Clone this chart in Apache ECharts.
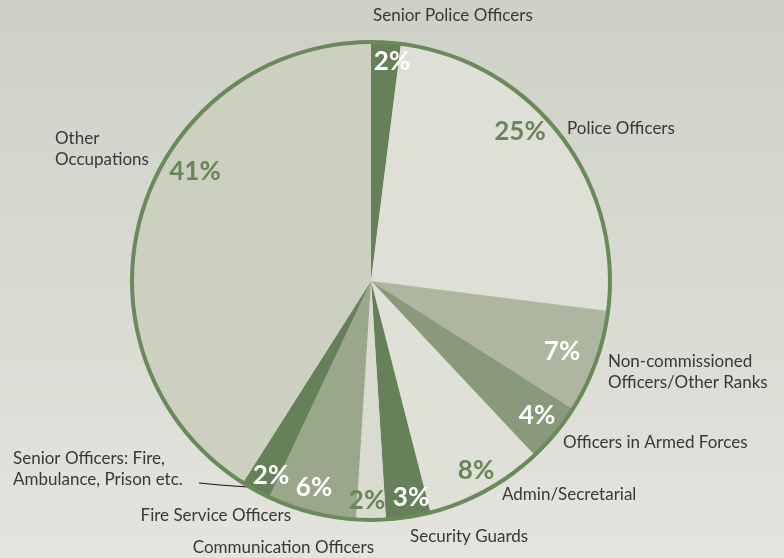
<!DOCTYPE html>
<html>
<head>
<meta charset="utf-8">
<script src="https://cdn.jsdelivr.net/npm/echarts@6/dist/echarts.min.js"></script>
<style>
html,body{margin:0;padding:0;}
#chart{width:784px;height:558px;}
</style>
</head>
<body>
<div id="chart"></div>
<script>
// ---- data ----
const categories = [
  'Senior Police Officers',
  'Police Officers',
  'Non-commissioned\nOfficers/Other Ranks',
  'Officers in Armed Forces',
  'Admin/Secretarial',
  'Security Guards',
  'Communication Officers',
  'Fire Service Officers',
  'Senior Officers: Fire,\nAmbulance, Prison etc.',
  'Other\nOccupations'
];
const values = [2, 25, 7, 4, 8, 3, 2, 6, 2, 41];

// ---- styles ----
const sliceColors = ['#66805a', '#dedfd6', '#aeb69f', '#889a7a', '#dfe0d8', '#66805a', '#d9dbd1', '#9aa78a', '#66805a', '#cbd0c1'];
const pctColors = ['#ffffff', '#6a8659', '#ffffff', '#ffffff', '#6a8659', '#ffffff', '#6a8659', '#ffffff', '#ffffff', '#6a8659'];
// label placement (layout): [x, y, align]
const nameLabelPlace = [
  [373, 16, 'left'], [567, 129, 'left'], [608, 372, 'left'], [563, 443, 'left'],
  [502, 495, 'left'], [410, 537, 'left'], [374, 548, 'right'], [291, 516, 'right'],
  [13, 469, 'left'], [55, 149, 'left']
];
const pctLabelPlace = [
  [392, 62], [520, 132], [562, 352], [537, 416], [476, 471],
  [411, 498], [367, 501], [314, 488], [271, 476], [195, 172]
];
const leaderLine = { index: 8, points: [[248, 487], [220, 485], [199, 483]] };

const CX = 371, CY = 281, R = 239;

const chart = echarts.init(document.getElementById('chart'));
const total = values.reduce((a, b) => a + b, 0);

const option = {
  backgroundColor: {
    type: 'linear', x: 0, y: 0, x2: 0, y2: 1,
    colorStops: [{ offset: 0, color: '#cdd1c5' }, { offset: 1, color: '#e3e4de' }]
  },
  animation: false,
  series: [
    {
      type: 'pie',
      center: [CX, CY],
      radius: [0, R],
      startAngle: 90,
      clockwise: true,
      avoidLabelOverlap: false,
      silent: true,
      itemStyle: { borderWidth: 0 },
      label: {
        show: true,
        position: 'outside',
        fontFamily: 'Lato',
        fontSize: 17,
        lineHeight: 21,
        color: '#383838'
      },
      labelLine: { show: false },
      labelLayout: function (p) {
        const pl = nameLabelPlace[p.dataIndex];
        const res = { x: pl[0], y: pl[1], align: pl[2], verticalAlign: 'middle' };
        if (p.dataIndex === leaderLine.index) res.labelLinePoints = leaderLine.points;
        return res;
      },
      data: categories.map((c, i) => ({
        name: c,
        value: values[i],
        itemStyle: { color: sliceColors[i] },
        labelLine: i === leaderLine.index
          ? { show: true, lineStyle: { color: '#111', width: 1 } }
          : { show: false }
      }))
    },
    {
      type: 'pie',
      center: [CX, CY],
      radius: [0, R],
      startAngle: 90,
      clockwise: true,
      avoidLabelOverlap: false,
      silent: true,
      itemStyle: { color: 'rgba(0,0,0,0)' },
      label: {
        show: true,
        position: 'inside',
        formatter: '{c}%',
        fontFamily: 'Lato',
        fontWeight: 'bold',
        fontSize: 26
      },
      labelLine: { show: false },
      labelLayout: function (p) {
        const pl = pctLabelPlace[p.dataIndex];
        return { x: pl[0], y: pl[1], align: 'center', verticalAlign: 'middle' };
      },
      data: categories.map((c, i) => ({
        name: c,
        value: values[i],
        label: { color: pctColors[i] }
      }))
    },
    {
      type: 'pie',
      center: [CX, CY],
      radius: [R - 2, R + 2],
      silent: true,
      label: { show: false },
      labelLine: { show: false },
      itemStyle: { color: '#6a8a5c' },
      data: [{ name: 'outline', value: total }]
    }
  ]
};
chart.setOption(option);
</script>
</body>
</html>
